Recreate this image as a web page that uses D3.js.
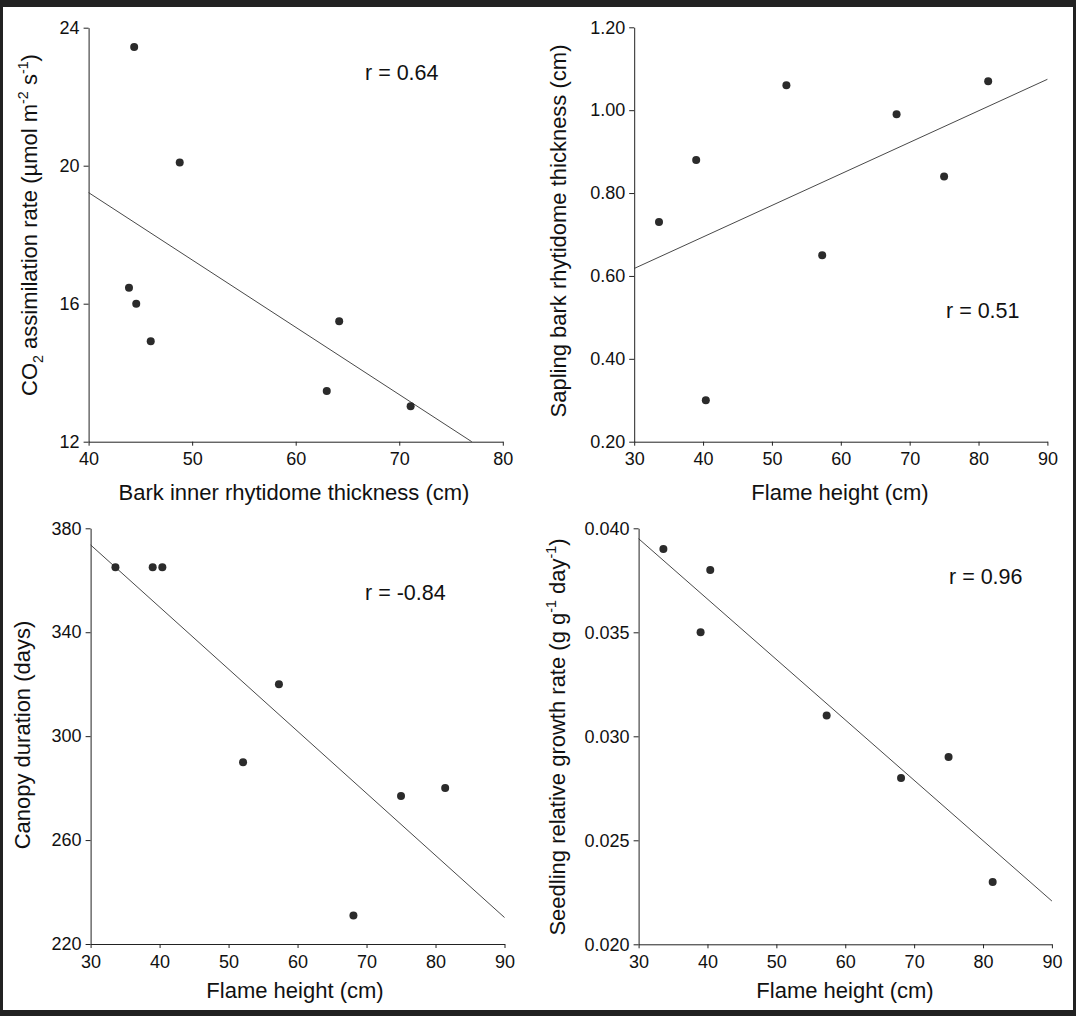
<!DOCTYPE html>
<html><head><meta charset="utf-8">
<script src="https://cdn.jsdelivr.net/npm/d3@7"></script>
<style>html,body{margin:0;padding:0;background:#fff}</style>
</head><body>
<svg id="chart" width="1076" height="1016"></svg>
<script>
// ---------- data ----------
const barkInner = [44.4, 48.8, 43.9, 44.6, 46.0, 64.2, 63.0, 71.1];
const co2Rate = [23.44, 20.09, 16.46, 16.0, 14.91, 15.49, 13.47, 13.03];
const flameHeight = [33.6, 39.0, 40.4, 52.1, 57.3, 68.1, 75.0, 81.4];
const saplingBark = [0.73, 0.88, 0.30, 1.06, 0.65, 0.99, 0.84, 1.07];
const canopyDuration = [365, 365, 365, 290, 320, 231, 277, 280];
const seedlingFlame = [33.6, 39.0, 40.4, 57.3, 68.1, 75.0, 81.4];
const seedlingRGR = [0.039, 0.035, 0.038, 0.031, 0.028, 0.029, 0.023];

const fit1X = [40, 77.0], fit1Y = [19.22, 12];
const fit2X = [30, 90], fit2Y = [0.618, 1.0745];
const fit3X = [30, 90], fit3Y = [373.6, 230.2];
const fit4X = [30, 90], fit4Y = [0.0395, 0.02208];

const rLabels = ["r = 0.64", "r = 0.51", "r = -0.84", "r = 0.96"];

const xTicks1 = [40, 50, 60, 70, 80];
const yTicks1 = [12, 16, 20, 24];
const xTicksFlame = [30, 40, 50, 60, 70, 80, 90];
const yTicks2 = [0.20, 0.40, 0.60, 0.80, 1.00, 1.20];
const yTicks3 = [220, 260, 300, 340, 380];
const yTicks4 = [0.020, 0.025, 0.030, 0.035, 0.040];

const xTitle1 = [{t: "Bark inner rhytidome thickness (cm)"}];
const xTitleFlame = [{t: "Flame height (cm)"}];
const yTitle1 = [{t: "CO"}, {t: "2", sub: true}, {t: " assimilation rate (µmol m"}, {t: "-2", sup: true}, {t: " s"}, {t: "-1", sup: true}, {t: ")"}];
const yTitle2 = [{t: "Sapling bark rhytidome thickness (cm)"}];
const yTitle3 = [{t: "Canopy duration (days)"}];
const yTitle4 = [{t: "Seedling relative growth rate (g g"}, {t: "-1", sup: true}, {t: " day"}, {t: "-1", sup: true}, {t: ")"}];

// ---------- layout ----------
const FONT = "'Liberation Sans', Arial, Helvetica, sans-serif";
const TICK_FS = 18, TITLE_FS = 22, R_FS = 21.5;
const panels = [
  {x: barkInner, y: co2Rate, fx: fit1X, fy: fit1Y, xd: [40, 80], yd: [12, 24], xr: [88.6, 502.8], yr: [441.7, 27.7],
   xt: xTicks1, yt: yTicks1, yf: d3.format("d"), xTitle: xTitle1, yTitle: yTitle1,
   xTitlePos: [294, 500], yTitlePos: [37, 225], r: rLabels[0], rPos: [365, 80]},
  {x: flameHeight, y: saplingBark, fx: fit2X, fy: fit2Y, xd: [30, 90], yd: [0.2, 1.2], xr: [634.2, 1047.4], yr: [441.7, 27.3],
   xt: xTicksFlame, yt: yTicks2, yf: d3.format(".2f"), xTitle: xTitleFlame, yTitle: yTitle2,
   xTitlePos: [840, 500], yTitlePos: [566, 231], r: rLabels[1], rPos: [946, 318]},
  {x: flameHeight, y: canopyDuration, fx: fit3X, fy: fit3Y, xd: [30, 90], yd: [220, 380], xr: [90.6, 504.5], yr: [944, 528.3],
   xt: xTicksFlame, yt: yTicks3, yf: d3.format("d"), xTitle: xTitleFlame, yTitle: yTitle3,
   xTitlePos: [295, 998], yTitlePos: [30, 735], r: rLabels[2], rPos: [365, 600]},
  {x: seedlingFlame, y: seedlingRGR, fx: fit4X, fy: fit4Y, xd: [30, 90], yd: [0.02, 0.04], xr: [638.6, 1051.9], yr: [944.3, 528.3],
   xt: xTicksFlame, yt: yTicks4, yf: d3.format(".3f"), xTitle: xTitleFlame, yTitle: yTitle4,
   xTitlePos: [845, 998], yTitlePos: [565, 737], r: rLabels[3], rPos: [949, 584]}
];

const svg = d3.select("#chart");
svg.append("rect").attr("width", 1076).attr("height", 1016).attr("fill", "#222");
svg.append("rect").attr("x", 3).attr("y", 7).attr("width", 1070).attr("height", 1003).attr("fill", "#fff");

function richText(sel, parts, size) {
  let shift = 0;
  parts.forEach(p => {
    const ts = sel.append("tspan").text(p.t);
    let target = 0;
    if (p.sub) { ts.attr("font-size", size * 0.65); target = size * 0.28; }
    else if (p.sup) { ts.attr("font-size", size * 0.65); target = -size * 0.4; }
    const dy = target - shift;
    if (dy !== 0) ts.attr("dy", dy);
    shift = target;
  });
}

panels.forEach(p => {
  const x = d3.scaleLinear().domain(p.xd).range(p.xr);
  const y = d3.scaleLinear().domain(p.yd).range(p.yr);
  const g = svg.append("g");

  const xAxis = d3.axisBottom(x).tickValues(p.xt).tickFormat(d3.format("d")).tickSize(4).tickSizeOuter(0).tickPadding(7);
  const yAxis = d3.axisLeft(y).tickValues(p.yt).tickFormat(p.yf).tickSize(5).tickSizeOuter(0).tickPadding(4);

  const gx = g.append("g").attr("transform", `translate(0,${p.yr[0]})`).call(xAxis);
  const gy = g.append("g").attr("transform", `translate(${p.xr[0]},0)`).call(yAxis);
  [gx, gy].forEach(a => {
    a.selectAll("path,line").attr("stroke", "#222").attr("stroke-width", 1);
    a.selectAll("text").attr("font-family", FONT).attr("font-size", TICK_FS).attr("fill", "#111");
  });

  // regression line
  const lineData = p.fx.map((v, i) => [v, p.fy[i]]);
  g.append("path").datum(lineData)
    .attr("d", d3.line().x(d => x(d[0])).y(d => y(d[1])))
    .attr("fill", "none").attr("stroke", "#333").attr("stroke-width", 0.9);

  // points
  g.selectAll("circle.pt").data(p.x.map((v, i) => [v, p.y[i]])).join("circle")
    .attr("class", "pt")
    .attr("cx", d => x(d[0])).attr("cy", d => y(d[1])).attr("r", 4).attr("fill", "#2b2b2b");

  // r label
  g.append("text").attr("x", p.rPos[0]).attr("y", p.rPos[1])
    .attr("font-family", FONT).attr("font-size", R_FS).attr("fill", "#111").text(p.r);

  // x title
  const xt = g.append("text").attr("x", p.xTitlePos[0]).attr("y", p.xTitlePos[1])
    .attr("text-anchor", "middle").attr("font-family", FONT).attr("font-size", TITLE_FS).attr("fill", "#111");
  richText(xt, p.xTitle, TITLE_FS);

  // y title
  const yt = g.append("text")
    .attr("transform", `translate(${p.yTitlePos[0]},${p.yTitlePos[1]}) rotate(-90)`)
    .attr("text-anchor", "middle").attr("font-family", FONT).attr("font-size", TITLE_FS).attr("fill", "#111");
  richText(yt, p.yTitle, TITLE_FS);
});
</script>
</body></html>
